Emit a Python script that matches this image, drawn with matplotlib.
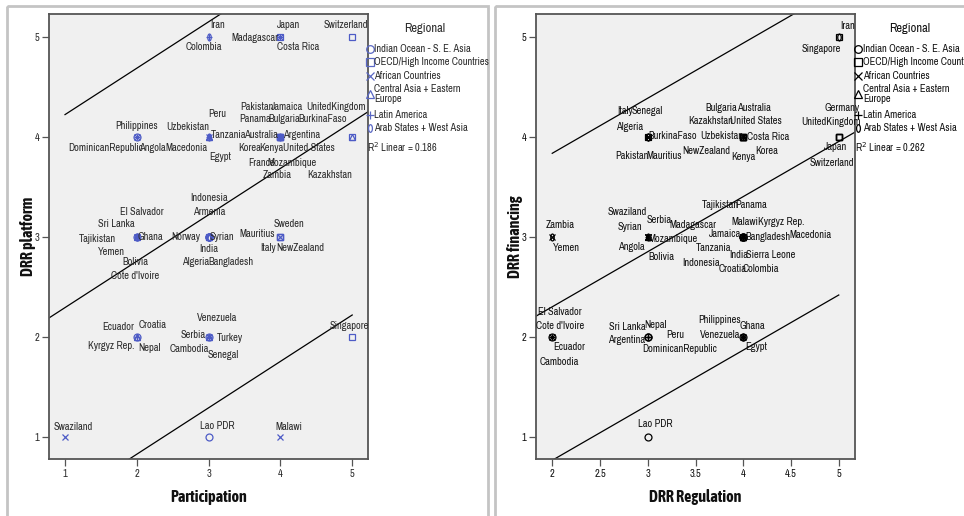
import numpy as np
import matplotlib
matplotlib.use('Agg')
import matplotlib.pyplot as plt
from matplotlib import font_manager
from matplotlib.path import Path
from matplotlib.transforms import Affine2D
from matplotlib.patches import Rectangle
from matplotlib.lines import Line2D

# --- Fonts: a narrow sans for labels, condensed bold for axis titles ---
_installed = {f.name for f in font_manager.fontManager.ttflist}


def pick(cands):
    for c in cands:
        if c in _installed:
            return c
    return 'DejaVu Sans'


TEXT_FONT = pick(['Liberation Sans Narrow', 'Archivo Narrow', 'Liberation Sans'])
BOLD_FONT = pick(['Liberation Sans Narrow', 'Asap Condensed', 'Liberation Sans'])
FS = 7.5 if TEXT_FONT != 'Liberation Sans' else 6.4
plt.rcParams['font.family'] = [TEXT_FONT, 'DejaVu Sans']

# --- Regions ---
region_codes = ['IO', 'OECD', 'AF', 'CA', 'LA', 'AR']
region_names = ['Indian Ocean - S. E. Asia', 'OECD/High Income Countries', 'African Countries',
                'Central Asia + Eastern\nEurope', 'Latin America', 'Arab States + West Asia']

# --- Left chart: Participation vs DRR platform ---
plat_country = ['Swaziland', 'Lao PDR', 'Malawi',
                'Ecuador', 'Croatia', 'Kyrgyz Rep.', 'Nepal',
                'Venezuela', 'Serbia', 'Turkey', 'Cambodia', 'Senegal', 'Singapore',
                'El Salvador', 'Sri Lanka', 'Tajikistan', 'Ghana', 'Yemen', 'Bolivia', "Cote d'Ivoire",
                'Indonesia', 'Armenia', 'Norway', 'Syrian', 'India', 'Algeria', 'Bangladesh',
                'Mauritius', 'Sweden', 'Italy', 'NewZealand',
                'Philippines', 'DominicanRepublic', 'Angola',
                'Peru', 'Uzbekistan', 'Tanzania', 'Macedonia', 'Egypt',
                'Pakistan', 'Jamaica', 'Panama', 'Bulgaria', 'BurkinaFaso', 'Australia', 'Argentina',
                'Korea', 'Kenya', 'United States', 'France', 'Mozambique', 'Zambia',
                'UnitedKingdom', 'Kazakhstan',
                'Iran', 'Colombia', 'Madagascar', 'Japan', 'Costa Rica', 'Switzerland']
plat_participation = [1, 3, 4,
                      2, 2, 2, 2,
                      3, 3, 3, 3, 3, 5,
                      2, 2, 2, 2, 2, 2, 2,
                      3, 3, 3, 3, 3, 3, 3,
                      4, 4, 4, 4,
                      2, 2, 2,
                      3, 3, 3, 3, 3,
                      4, 4, 4, 4, 4, 4, 4,
                      4, 4, 4, 4, 4, 4,
                      5, 5,
                      3, 3, 4, 4, 4, 5]
plat_platform = [1, 1, 1,
                 2, 2, 2, 2,
                 2, 2, 2, 2, 2, 2,
                 3, 3, 3, 3, 3, 3, 3,
                 3, 3, 3, 3, 3, 3, 3,
                 3, 3, 3, 3,
                 4, 4, 4,
                 4, 4, 4, 4, 4,
                 4, 4, 4, 4, 4, 4, 4,
                 4, 4, 4, 4, 4, 4,
                 4, 4,
                 5, 5, 5, 5, 5, 5]
plat_region = ['AF', 'IO', 'AF',
               'LA', 'CA', 'CA', 'IO',
               'LA', 'CA', 'CA', 'IO', 'AF', 'OECD',
               'LA', 'IO', 'CA', 'AF', 'AR', 'LA', 'AF',
               'IO', 'CA', 'OECD', 'AR', 'IO', 'AR', 'IO',
               'AF', 'OECD', 'OECD', 'OECD',
               'IO', 'LA', 'AF',
               'LA', 'CA', 'AF', 'CA', 'AR',
               'AR', 'LA', 'LA', 'CA', 'AF', 'OECD', 'LA',
               'OECD', 'AF', 'OECD', 'OECD', 'AF', 'AF',
               'OECD', 'CA',
               'AR', 'LA', 'AF', 'OECD', 'LA', 'OECD']
plat_r2 = 0.186
plat_fit = (1.83, 0.464, 1.93)   # intercept, slope, interval half-width

# --- Right chart: DRR Regulation vs DRR financing ---
fin_country = ['El Salvador', "Cote d'Ivoire", 'Ecuador', 'Cambodia',
               'Sri Lanka', 'Nepal', 'Argentina', 'Peru', 'DominicanRepublic',
               'Philippines', 'Venezuela', 'Ghana', 'Egypt',
               'Lao PDR',
               'Zambia', 'Yemen',
               'Swaziland', 'Serbia', 'Syrian', 'Madagascar', 'Mozambique', 'Angola', 'Bolivia',
               'Indonesia', 'Tanzania', 'Jamaica', 'Bangladesh', 'Macedonia', 'Malawi', 'Kyrgyz Rep.',
               'Tajikistan', 'Panama', 'India', 'Sierra Leone', 'Croatia', 'Colombia',
               'Italy', 'Senegal', 'Algeria', 'BurkinaFaso', 'Pakistan', 'Mauritius',
               'Uzbekistan', 'Costa Rica', 'Kazakhstan', 'United States', 'Bulgaria', 'Australia',
               'NewZealand', 'Kenya', 'Korea',
               'Iran', 'Singapore',
               'Germany', 'UnitedKingdom', 'Japan', 'Switzerland']
fin_regulation = [2, 2, 2, 2,
                  3, 3, 3, 3, 3,
                  4, 4, 4, 4,
                  3,
                  2, 2,
                  3, 3, 3, 3, 3, 3, 3,
                  4, 4, 4, 4, 4, 4, 4,
                  4, 4, 4, 4, 4, 4,
                  3, 3, 3, 3, 3, 3,
                  4, 4, 4, 4, 4, 4,
                  4, 4, 4,
                  5, 5,
                  5, 5, 5, 5]
fin_financing = [2, 2, 2, 2,
                 2, 2, 2, 2, 2,
                 2, 2, 2, 2,
                 1,
                 3, 3,
                 3, 3, 3, 3, 3, 3, 3,
                 3, 3, 3, 3, 3, 3, 3,
                 3, 3, 3, 3, 3, 3,
                 4, 4, 4, 4, 4, 4,
                 4, 4, 4, 4, 4, 4,
                 4, 4, 4,
                 5, 5,
                 4, 4, 4, 4]
fin_region = ['LA', 'AF', 'LA', 'IO',
              'IO', 'IO', 'LA', 'LA', 'LA',
              'IO', 'LA', 'AF', 'AR',
              'IO',
              'AF', 'AR',
              'AF', 'CA', 'AR', 'AF', 'AF', 'AF', 'LA',
              'IO', 'AF', 'LA', 'IO', 'CA', 'AF', 'CA',
              'CA', 'LA', 'IO', 'AF', 'CA', 'LA',
              'OECD', 'AF', 'AR', 'AF', 'AR', 'AF',
              'CA', 'LA', 'CA', 'OECD', 'CA', 'OECD',
              'OECD', 'AF', 'OECD',
              'AR', 'OECD',
              'OECD', 'OECD', 'OECD', 'OECD']
fin_r2 = 0.262
fin_fit = (1.20, 0.551, 1.535)

# --- Label placement (pixel offsets from each point, y downward) ---
plat_offsets = [(8, -10), (9, -11), (8, -10),
                (-19, -10), (16, -12), (-26, 9), (13, 11),
                (9, -19), (-15, -2), (21, 1), (-19, 12), (15, 18), (-3, -11),
                (5, -25), (-20, -13), (-39, 2), (14, 0), (-25, 15), (-1, 25), (-2, 39),
                (0, -39), (1, -25), (-23, 0), (13, 0), (0, 12), (-13, 25), (22, 25),
                (-23, -3), (9, -13), (-12, 11), (20, 11),
                (0, -11), (-31, 11), (16, 11),
                (9, -23), (-21, -10), (20, -2), (-22, 11), (12, 20),
                (-23, -30), (7, -30), (-25, -18), (4, -18), (42, -18), (-19, -2), (21, -2),
                (-31, 11), (-9, 11), (29, 11), (-19, 26), (12, 26), (-3, 38),
                (-16, -30), (-23, 38),
                (9, -12), (-5, 10), (-26, 1), (8, -12), (18, 10), (-6, -12)]
fin_offsets = [(8, -25), (8, -11), (17, 10), (7, 25),
               (-20, -10), (8, -12), (-21, 3), (28, -2), (32, 12),
               (-24, -17), (-23, -2), (9, -11), (13, 10),
               (8, -13),
               (8, -12), (14, 11),
               (-20, -25), (11, -17), (-18, -10), (45, -12), (25, 2), (-16, 10), (14, 20),
               (-42, 26), (-30, 11), (-18, -3), (25, 0), (67, -2), (2, -15), (38, -15),
               (-23, -32), (8, -32), (-5, 18), (27, 18), (-11, 32), (18, 32),
               (-23, -26), (0, -26), (-18, -10), (25, -1), (-16, 19), (16, 19),
               (-22, -1), (25, 0), (-33, -16), (13, -16), (-22, -29), (11, -29),
               (-37, 14), (0, 20), (23, 14),
               (9, -11), (-17, 12),
               (3, -29), (-8, -15), (-3, 10), (-7, 26)]

# --- Marker styles per region ---
ellipse = Affine2D().scale(0.5, 1.0).transform_path(Path.unit_circle())
region_markers = {'IO': 'o', 'OECD': 's', 'AF': 'x', 'CA': '^', 'LA': '+', 'AR': ellipse}

W, H = 964, 516
fig = plt.figure(figsize=(W / 100, H / 100), dpi=100)
pix = Affine2D().scale(1 / W, -1 / H).translate(0, 1) + fig.transFigure

# panel frames
for x0, x1 in [(7, 488), (495, 975)]:
    fig.add_artist(Rectangle((x0, 6), x1 - x0, 530, transform=pix, fill=False,
                             edgecolor='#c4c4c4', linewidth=2))


def scatter_panel(rect, xs, ys, regs, names, offsets, fit, fit_range, xlim, xticks,
                  xlabel, ylabel, mcolor, tcolor):
    ax = fig.add_axes(rect)
    ax.set_facecolor('#f0f0f0')
    for x, y, r in zip(xs, ys, regs):
        ax.plot(x, y, linestyle='none', marker=region_markers[r], ms=5, mew=0.9,
                mfc='none', mec=mcolor, zorder=3)
    for name, x, y, (dx, dy) in zip(names, xs, ys, offsets):
        ax.annotate(name, (x, y), xytext=(dx, -dy), textcoords='offset pixels',
                    ha='center', va='center', fontsize=FS, color=tcolor, zorder=4)

    b0, b1, band = fit
    xx = np.array(xlim)
    ax.plot(xx, b0 + b1 * xx, color='black', lw=0.9, zorder=2)
    xr = np.array(fit_range)
    ax.plot(xr, b0 + band + b1 * xr, color='black', lw=0.9, zorder=2)
    ax.plot(xr, b0 - band + b1 * xr, color='black', lw=0.9, zorder=2)

    ax.set_xlim(*xlim)
    ax.set_ylim(0.78, 5.23)
    ax.set_xticks(xticks)
    ax.set_xticklabels([('%g' % t) for t in xticks])
    ax.set_yticks([1, 2, 3, 4, 5])
    for s in ax.spines.values():
        s.set_color('#555555')
        s.set_linewidth(1.3)
    ax.tick_params(length=5, width=0.9, color='#555555', labelsize=FS,
                   labelcolor=tcolor, pad=2)
    ax.set_xlabel(xlabel, fontsize=11.5, fontweight='bold', family=BOLD_FONT,
                  color='#111111', va='center')
    ax.xaxis.set_label_coords(0.5, -38 / 445)
    ax.set_ylabel(ylabel, fontsize=11.5, fontweight='bold', family=BOLD_FONT,
                  color='#111111', va='center')
    ax.yaxis.set_label_coords(-21 / 319, 0.5)
    return ax


def draw_legend(x_mark, x_text, x_title, mcolor, tcolor, r2):
    fig.text(x_title / W, 1 - 28 / H, 'Regional', ha='center', va='center',
             fontsize=FS + 1.5, color=tcolor)
    rows = [49, 62, 76, 94, 115, 128]
    for code, name, y in zip(region_codes, region_names, rows):
        fig.add_artist(Line2D([x_mark], [y], transform=pix, linestyle='none',
                              marker=region_markers[code], ms=5.5, mew=0.9,
                              mfc='none', mec=mcolor))
        fig.text(x_text / W, 1 - y / H, name, ha='left', va='center', fontsize=FS,
                 color=tcolor, linespacing=0.95)
    fig.text((x_mark - 3) / W, 1 - 147 / H, 'R$^2$ Linear = %.3f' % r2, ha='left',
             va='center', fontsize=FS, color=tcolor)


scatter_panel([49 / W, 57 / H, 319 / W, 445 / H],
              plat_participation, plat_platform, plat_region, plat_country, plat_offsets,
              plat_fit, (1, 5), (0.777, 5.22), [1, 2, 3, 4, 5],
              'Participation', 'DRR platform', '#4d5bc6', '#2a2a2a')
draw_legend(370, 374, 425, '#5a68c4', '#2a2a2a', plat_r2)

scatter_panel([536 / W, 57 / H, 319 / W, 445 / H],
              fin_regulation, fin_financing, fin_region, fin_country, fin_offsets,
              fin_fit, (2, 5), (1.83, 5.17), [2, 2.5, 3, 3.5, 4, 4.5, 5],
              'DRR Regulation', 'DRR financing', 'black', '#111111')
draw_legend(858, 863, 910, 'black', '#111111', fin_r2)

fig.savefig('out.png', dpi=100)
